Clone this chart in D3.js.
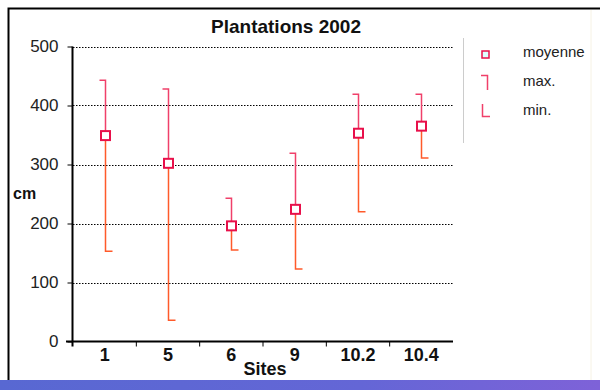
<!DOCTYPE html>
<html>
<head>
<meta charset="utf-8">
<script src="https://cdn.jsdelivr.net/npm/d3@7"></script>
<style>
  body { margin: 0; background: #fff; }
  svg { display: block; font-family: "Liberation Sans", Arial, sans-serif; }
</style>
</head>
<body>
<svg id="chart" width="600" height="390"></svg>
<script>
const sites = ['1', '5', '6', '9', '10.2', '10.4']
const moyenne = [349, 302, 196, 224, 353, 365]
const maxVals = [443, 428, 243, 319, 419, 419]
const minVals = [153, 36, 155, 123, 220, 311]
const yTicks = [0, 100, 200, 300, 400, 500]
const legendLabels = ['moyenne', 'max.', 'min.']

const svg = d3.select('#chart')

const x = d3.scaleBand().domain(sites).range([73, 453]).padding(0)
const y = d3.scaleLinear().domain([0, 500]).range([341.5, 46.5])

// frame + bottom bar
const grad = svg.append('defs').append('linearGradient').attr('id', 'bar')
grad.append('stop').attr('offset', '0%').attr('stop-color', '#5868d2')
grad.append('stop').attr('offset', '60%').attr('stop-color', '#6466d6')
grad.append('stop').attr('offset', '100%').attr('stop-color', '#7e62d8')
svg.append('rect').attr('x', 0).attr('y', 380).attr('width', 600).attr('height', 10).attr('fill', 'url(#bar)')
svg.append('path').attr('d', 'M8.5,380V8.5H600').attr('fill', 'none').attr('stroke', '#000').attr('stroke-width', 2)
svg.append('line').attr('x1', 591).attr('x2', 591).attr('y1', 10).attr('y2', 380).attr('stroke', '#f6f2e4')

// grid
svg.append('g').selectAll('line')
  .data(yTicks.filter(d => d > 0))
  .join('line')
  .attr('x1', 73).attr('x2', 453)
  .attr('y1', d => Math.round(y(d)) + 0.5).attr('y2', d => Math.round(y(d)) + 0.5)
  .attr('stroke', '#000').attr('stroke-dasharray', '1.5,1.5')

// y axis
const yAxis = svg.append('g').attr('transform', 'translate(72.5,0)')
  .call(d3.axisLeft(y).tickValues(yTicks).tickSize(5).tickPadding(9))
yAxis.select('.domain').attr('d', `M0,${y(500)}V${y(0) + 5}`).attr('stroke-width', 2)
yAxis.selectAll('text').attr('font-size', 17).attr('fill', '#222').attr('font-family', 'Liberation Sans, Arial')

// x axis
const xAxis = svg.append('g').attr('transform', `translate(0,${y(0)})`)
  .call(d3.axisBottom(x).tickSize(0).tickPadding(7))
xAxis.select('.domain').attr('d', 'M66,0H453').attr('stroke-width', 2)
xAxis.selectAll('text').attr('font-size', 18).attr('font-weight', 'bold').attr('fill', '#111').attr('font-family', 'Liberation Sans, Arial')
xAxis.selectAll('line.sep')
  .data(sites.slice(1))
  .join('line').attr('class', 'sep')
  .attr('x1', d => x(d)).attr('x2', d => x(d))
  .attr('y1', 0).attr('y2', 5).attr('stroke', '#000')

// error bars
const upper = '#f0406a'
const lower = '#ff5a2a'
const bars = svg.append('g').selectAll('g')
  .data(sites.map((s, i) => ({ s, mean: moyenne[i], max: maxVals[i], min: minVals[i] })))
  .join('g')
  .attr('transform', d => `translate(${Math.round(x(d.s) + x.bandwidth() / 2) + 0.5},0)`)
bars.append('path')
  .attr('d', d => `M-6,${y(d.max)}H0V${y(d.mean)}`)
  .attr('fill', 'none').attr('stroke', upper).attr('stroke-width', 1.5)
bars.append('path')
  .attr('d', d => `M0,${y(d.mean)}V${y(d.min)}H7`)
  .attr('fill', 'none').attr('stroke', lower).attr('stroke-width', 1.5)
bars.append('rect')
  .attr('x', -4.5).attr('y', d => y(d.mean) - 4.5)
  .attr('width', 9).attr('height', 9)
  .attr('fill', '#fff').attr('stroke', '#e8104a').attr('stroke-width', 2)

// titles
svg.append('text').attr('x', 286).attr('y', 33).attr('text-anchor', 'middle')
  .attr('font-size', 19).attr('font-weight', 'bold').attr('fill', '#111').text('Plantations 2002')
svg.append('text').attr('x', 13).attr('y', 199)
  .attr('font-size', 16).attr('font-weight', 'bold').attr('fill', '#111').text('cm')
svg.append('text').attr('x', 265).attr('y', 375).attr('text-anchor', 'middle')
  .attr('font-size', 18).attr('font-weight', 'bold').attr('fill', '#111').text('Sites')

// legend
svg.append('line').attr('x1', 463.5).attr('x2', 463.5).attr('y1', 38).attr('y2', 143).attr('stroke', '#ccc')
const leg = svg.append('g')
leg.selectAll('text')
  .data(legendLabels)
  .join('text')
  .attr('x', 523).attr('y', (d, i) => 57 + i * 29)
  .attr('font-size', 15).attr('fill', '#222').text(d => d)
leg.append('rect').attr('x', 482).attr('y', 51).attr('width', 7).attr('height', 7)
  .attr('fill', '#dff').attr('stroke', '#e8104a').attr('stroke-width', 1.5)
leg.append('path').attr('d', 'M481,75.5H487.5V90').attr('fill', 'none').attr('stroke', upper).attr('stroke-width', 1.5)
leg.append('path').attr('d', 'M482.5,104V116.5H490').attr('fill', 'none').attr('stroke', upper).attr('stroke-width', 1.5)
</script>
</body>
</html>
